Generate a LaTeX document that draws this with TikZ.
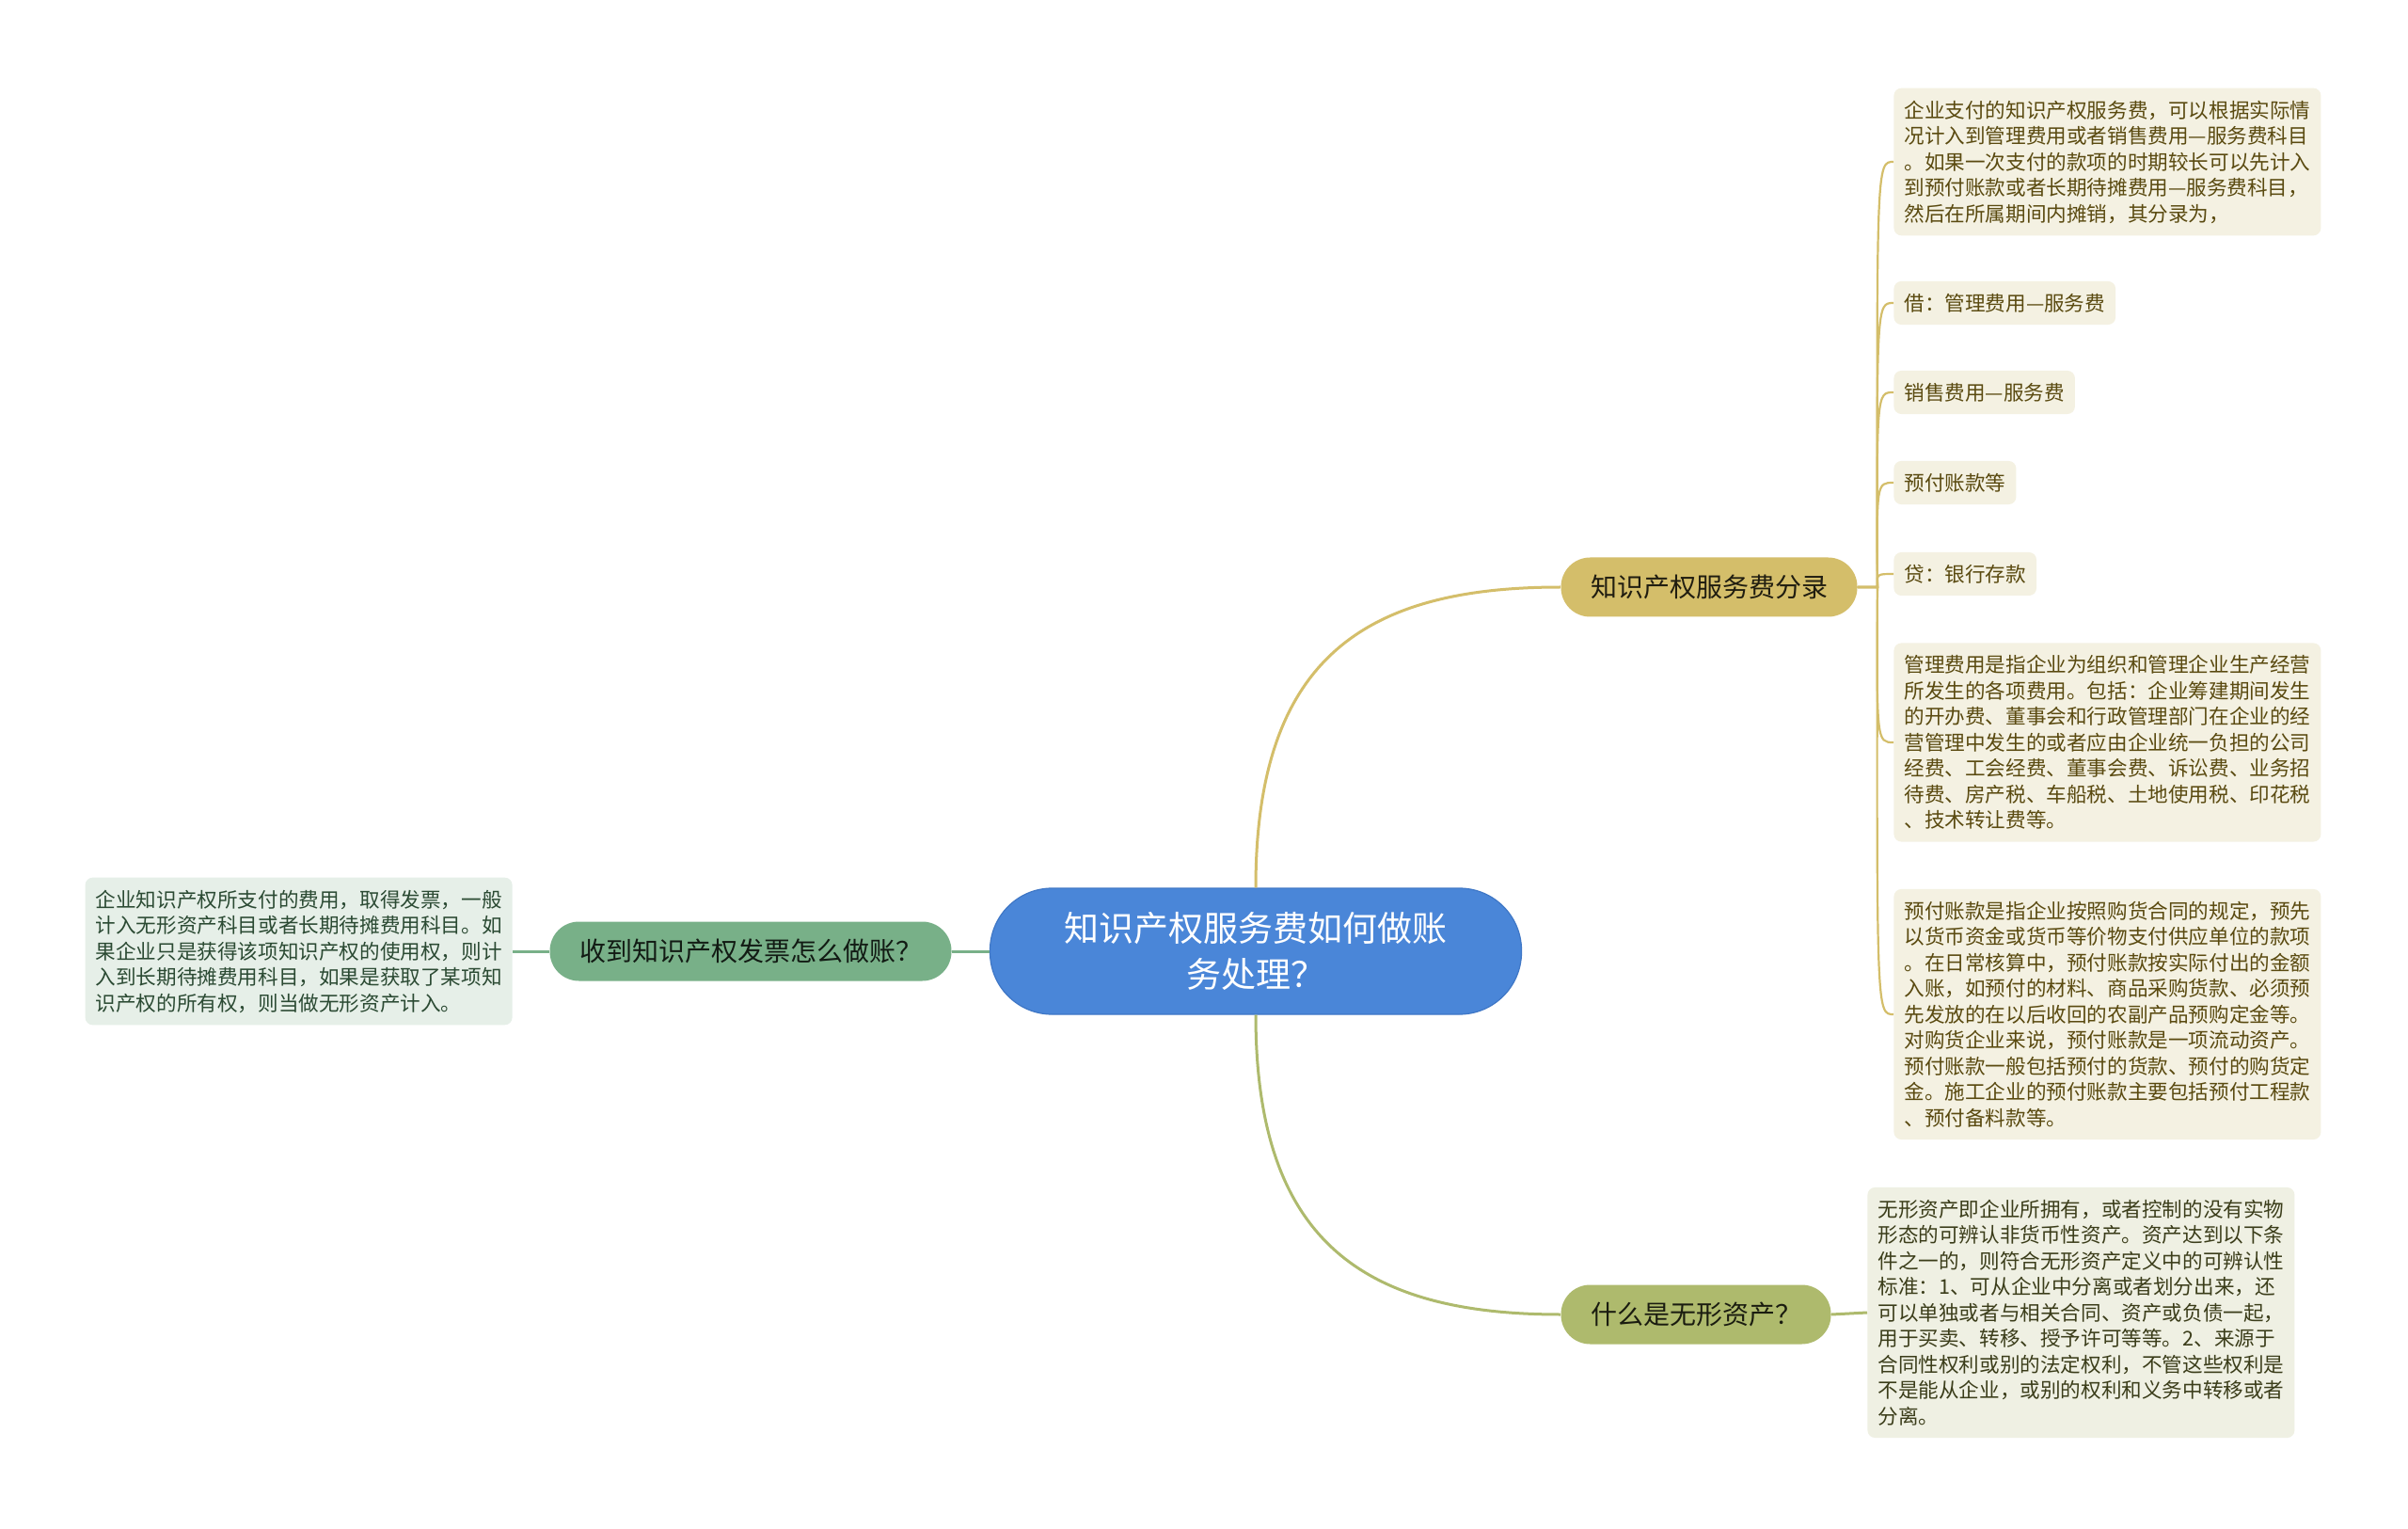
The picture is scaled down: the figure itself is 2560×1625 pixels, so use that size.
\documentclass[tikz,border=0pt]{standalone}
\usepackage{fontspec}
\setmainfont{Noto Sans CJK SC}
\usepackage{tikz}
\definecolor{rootblue}{HTML}{4A86D8}
\definecolor{rootedge}{HTML}{3F77C6}
\definecolor{mint}{HTML}{78B088}
\definecolor{mintpale}{HTML}{E6EFE8}
\definecolor{mintink}{HTML}{2B4A33}
\definecolor{gold}{HTML}{D4BE6A}
\definecolor{goldpale}{HTML}{F4F1E2}
\definecolor{goldink}{HTML}{5A4A10}
\definecolor{olive}{HTML}{AEBA6D}
\definecolor{olivepale}{HTML}{EFF0E3}
\definecolor{oliveink}{HTML}{3B3D1A}
\tikzstyle{root} = [fill=rootblue, draw=rootedge, line width=0.6pt, text=white, rounded corners=33pt, minimum width=282.5pt, minimum height=67pt, text width=204pt, align=center, font=\fontsize{18.5pt}{24.5pt}\selectfont]
\tikzstyle{topic} = [rounded corners=15.5pt, minimum height=31.5pt, inner xsep=15.75pt, font=\fontsize{14pt}{17pt}\selectfont]
\tikzstyle{note} = [rounded corners=4pt, inner xsep=5.5pt, inner ysep=6.5pt, align=left, font=\fontsize{10.8pt}{13.75pt}\selectfont]
\tikzstyle{wide} = [text width=216pt]
\tikzstyle{link} = [line width=1.5pt]
\tikzstyle{twig} = [line width=1.1pt, draw=gold]

\begin{document}
\begin{tikzpicture}[x=0.5pt, y=-0.5pt]
		\useasboundingbox[fill=white] (0,0) rectangle (2560,1625);
		\node[root] (hub) at (1335,1011) {知识产权服务费如何做账\\务处理？};
		\node[topic, fill=mint, text=black!85!mint] (invoice) at (798,1011) {收到知识产权发票怎么做账？};
		\node[note, wide, fill=mintpale, text=mintink, anchor=east] (invoicetext) at (545,1011) {企业知识产权所支付的费用，取得发票，一般\\计入无形资产科目或者长期待摊费用科目。如\\果企业只是获得该项知识产权的使用权，则计\\入到长期待摊费用科目，如果是获取了某项知\\识产权的所有权，则当做无形资产计入。};
		\node[topic, fill=gold, text=black!85!gold] (fee) at (1817,624) {知识产权服务费分录};
		\node[note, wide, fill=goldpale, text=goldink, anchor=west] (f1) at (2013,172) {企业支付的知识产权服务费，可以根据实际情\\况计入到管理费用或者销售费用—服务费科目\\。如果一次支付的款项的时期较长可以先计入\\到预付账款或者长期待摊费用—服务费科目，\\然后在所属期间内摊销，其分录为，};
		\node[note, fill=goldpale, text=goldink, anchor=west] (f2) at (2013,322) {借：管理费用—服务费};
		\node[note, fill=goldpale, text=goldink, anchor=west] (f3) at (2013,417) {销售费用—服务费};
		\node[note, fill=goldpale, text=goldink, anchor=west] (f4) at (2013,513) {预付账款等};
		\node[note, fill=goldpale, text=goldink, anchor=west] (f5) at (2013,610) {贷：银行存款};
		\node[note, wide, fill=goldpale, text=goldink, anchor=west] (f6) at (2013,789) {管理费用是指企业为组织和管理企业生产经营\\所发生的各项费用。包括：企业筹建期间发生\\的开办费、董事会和行政管理部门在企业的经\\营管理中发生的或者应由企业统一负担的公司\\经费、工会经费、董事会费、诉讼费、业务招\\待费、房产税、车船税、土地使用税、印花税\\、技术转让费等。};
		\node[note, wide, fill=goldpale, text=goldink, anchor=west] (f7) at (2013,1078) {预付账款是指企业按照购货合同的规定，预先\\以货币资金或货币等价物支付供应单位的款项\\。在日常核算中，预付账款按实际付出的金额\\入账，如预付的材料、商品采购货款、必须预\\先发放的在以后收回的农副产品预购定金等。\\对购货企业来说，预付账款是一项流动资产。\\预付账款一般包括预付的货款、预付的购货定\\金。施工企业的预付账款主要包括预付工程款\\、预付备料款等。};
		\node[topic, fill=olive, text=black!85!olive] (asset) at (1803,1397) {什么是无形资产？};
		\node[note, wide, fill=olivepale, text=oliveink, anchor=west] (assettext) at (1985,1395) {无形资产即企业所拥有，或者控制的没有实物\\形态的可辨认非货币性资产。资产达到以下条\\件之一的，则符合无形资产定义中的可辨认性\\标准：1、可从企业中分离或者划分出来，还\\可以单独或者与相关合同、资产或负债一起，\\用于买卖、转移、授予许可等等。2、来源于\\合同性权利或别的法定权利，不管这些权利是\\不是能从企业，或别的权利和义务中转移或者\\分离。};
		\draw[link, draw=mint] (hub.west) -- (invoice.east);
		\draw[link, draw=mint] (invoice.west) -- (invoicetext.east);
		\draw[link, draw=gold] (hub.north) .. controls (1335,700) and (1450,624) .. (fee.west);
		\draw[link, draw=olive] (hub.south) .. controls (1335,1320) and (1450,1397) .. (asset.west);
		\draw[link, draw=olive] (asset.east) -- (assettext.west);
		\foreach \n/\y in {f1/172, f2/322, f3/417, f4/513, f5/610, f6/789, f7/1078}
			\draw[twig] (fee.east) -- ++(21,0) .. controls (1995,\y) .. (\n.west);
\end{tikzpicture}
\end{document}
